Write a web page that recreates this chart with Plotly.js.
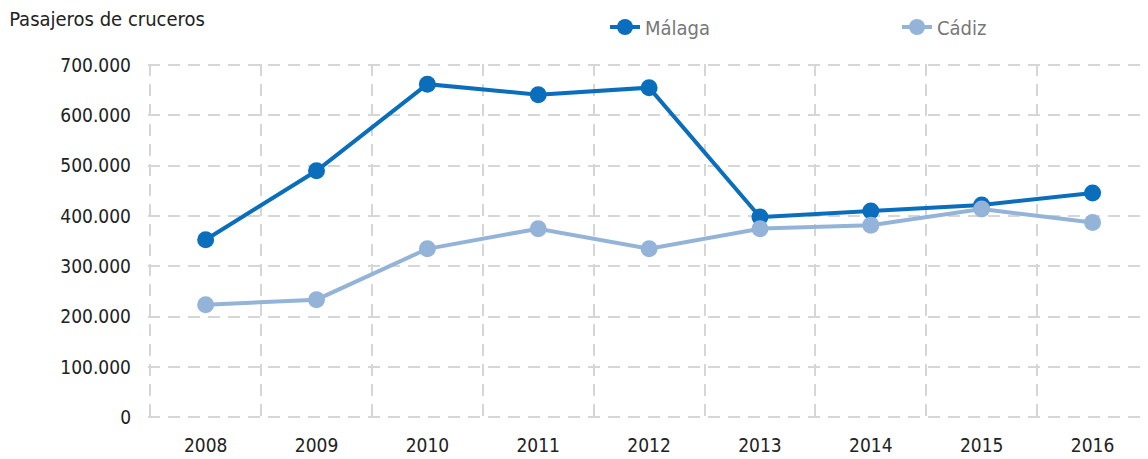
<!DOCTYPE html>
<html>
<head>
<meta charset="utf-8">
<script src="https://cdn.plot.ly/plotly-3.0.1.min.js"></script>
<style>html,body{margin:0;padding:0;background:#fff;}#chart{width:1148px;height:459px;}</style>
</head>
<body>
<div id="chart"></div>
<script>
const years = ["2008","2009","2010","2011","2012","2013","2014","2015","2016"];
const malaga = [353000, 490000, 662000, 641000, 655000, 398000, 410000, 422000, 446000];
const cadiz = [224000, 234000, 335000, 375000, 335000, 375000, 382000, 414000, 387000];
const yTicks = [0, 100000, 200000, 300000, 400000, 500000, 600000, 700000];

const FONT = "'DejaVu Sans Condensed', Roboto, sans-serif";

const traces = [
  {x: years, y: malaga, name: "Málaga", type: "scatter", mode: "lines+markers",
   line: {color: "#0a6ebd", width: 4}, marker: {color: "#0a6ebd", size: 17}},
  {x: years, y: cadiz, name: "Cádiz", type: "scatter", mode: "lines+markers",
   line: {color: "#94b3d9", width: 4}, marker: {color: "#94b3d9", size: 17}}
];

const layout = {
  width: 1148, height: 459,
  margin: {l: 148, r: 0, t: 64, b: 39},
  paper_bgcolor: "#fff", plot_bgcolor: "#fff",
  separators: ",.",
  font: {family: FONT, color: "#222"},
  title: {text: "Pasajeros de cruceros", x: 0.008, xref: "container", xanchor: "left",
          y: 1 - 19/459, yref: "container", yanchor: "middle",
          font: {size: 20, color: "#222", family: FONT}},
  showlegend: true,
  legend: {orientation: "h", x: 605/1148, xref: "container", xanchor: "left",
           y: 1 - 27/459, yref: "container", yanchor: "middle",
           entrywidth: 247, entrywidthmode: "pixels",
           font: {size: 20, color: "#777", family: FONT}},
  xaxis: {type: "category", range: [-0.52, 8.5], tickson: "boundaries",
          showgrid: true, gridcolor: "#d6d6d6", gridwidth: 2, griddash: "12px,8px",
          ticks: "", showline: false, zeroline: false, fixedrange: true,
          ticklabelstandoff: 12,
          tickfont: {size: 19, color: "#222"}},
  yaxis: {range: [-5000, 702000], tickvals: yTicks, tickformat: ",d",
          showgrid: true, gridcolor: "#d6d6d6", gridwidth: 2, griddash: "12px,8px",
          zeroline: false, showline: false, ticks: "", ticklabelstandoff: 16,
          tickfont: {size: 19, color: "#222"}},
};

Plotly.newPlot("chart", traces, layout, {displayModeBar: false, staticPlot: true});
</script>
</body>
</html>
